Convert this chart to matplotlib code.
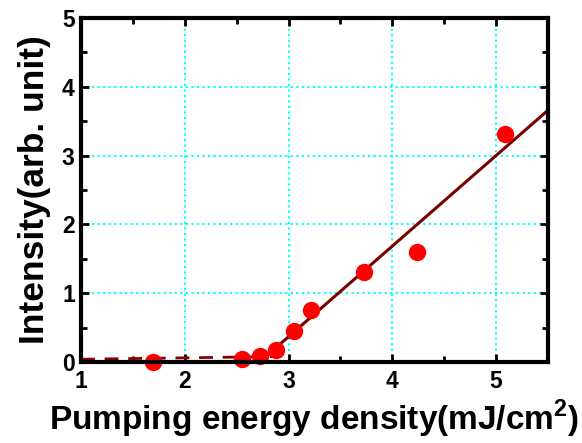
import numpy as np
import matplotlib.pyplot as plt
from matplotlib.ticker import MultipleLocator

# Data
energy = [1.69, 2.55, 2.72, 2.88, 3.05, 3.22, 3.73, 4.24, 5.09]
intensity = [0.0, 0.04, 0.09, 0.17, 0.45, 0.76, 1.31, 1.60, 3.31]

# Below-threshold fit (dashed) and above-threshold fit (solid)
below_x = [1.0, 2.9]
below_y = [0.04, 0.08]
above_x = [2.72, 5.5]
above_y = [0.0, 3.66]

plt.rcParams["font.family"] = ["Liberation Sans", "DejaVu Sans"]
plt.rcParams["font.weight"] = "bold"
plt.rcParams["mathtext.fontset"] = "custom"
plt.rcParams["mathtext.bf"] = "Liberation Sans:bold"
plt.rcParams["mathtext.rm"] = "Liberation Sans:bold"

fig = plt.figure(figsize=(5.82, 4.43), dpi=100)
ax = fig.add_axes([0.1392, 0.1828, 0.8024, 0.7765])

ax.plot(below_x, below_y, "--", color="#8b0000", lw=2.0, dashes=(5, 3.5), zorder=3)
ax.plot(above_x, above_y, "-", color="#7a0000", lw=2.2, zorder=3)
ax.plot(energy, intensity, "o", color="red", ms=12.5, mec="none", zorder=4,
        clip_on=False)

ax.set_xlim(1, 5.5)
ax.set_ylim(0, 5)
ax.xaxis.set_major_locator(MultipleLocator(1))
ax.xaxis.set_minor_locator(MultipleLocator(0.5))
ax.yaxis.set_major_locator(MultipleLocator(1))
ax.yaxis.set_minor_locator(MultipleLocator(0.5))

ax.grid(True, which="major", color="cyan", linestyle=":", lw=1.5)
ax.tick_params(which="both", direction="in", top=True, right=True,
               width=2, labelsize=16.5)
ax.tick_params(axis="x", pad=6)
ax.tick_params(axis="y", pad=4.5)
ax.tick_params(which="major", length=6)
ax.tick_params(which="minor", length=4)
for s in ax.spines.values():
    s.set_linewidth(3)
    s.set_zorder(5)

ax.set_xlabel("Pumping energy density(mJ/cm$^\\mathbf{2}$)", fontsize=24,
              fontweight="bold", labelpad=3)
ax.set_ylabel("Intensity(arb. unit)", fontsize=25.5, fontweight="bold",
              labelpad=8)

plt.savefig("out.png", dpi=100)
